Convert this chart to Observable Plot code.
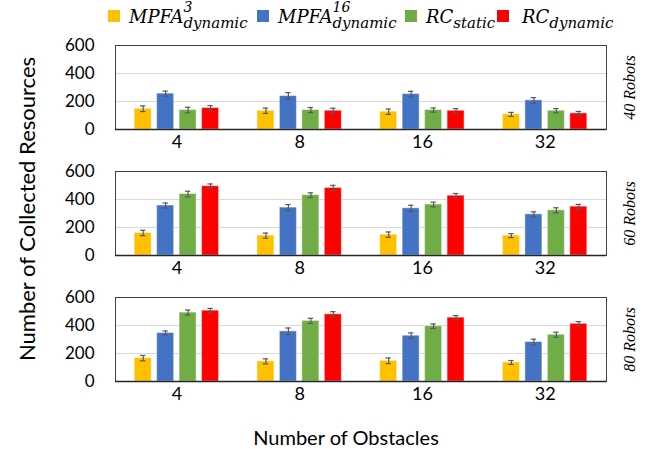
<!DOCTYPE html>
<html>
<head>
<meta charset="utf-8">
<script src="https://cdn.jsdelivr.net/npm/d3@7"></script>
<script src="https://cdn.jsdelivr.net/npm/@observablehq/plot@0.6"></script>
<style>
  html, body { margin: 0; padding: 0; background: #fff; }
  #wrap { position: relative; width: 650px; height: 449px; overflow: hidden; }
  #chart { position: absolute; left: 0; top: 0; }
  .legend-item { position: absolute; top: 0; height: 32px; white-space: nowrap; font-family: "DejaVu Serif", serif; font-style: italic; color: #000; }
  .sw { position: absolute; top: 10px; width: 12px; height: 12px; }
  .lab { position: absolute; top: 0; font-size: 18px; line-height: 1; }
  .base { position: relative; top: 8px; }
  .ss { position: relative; display: inline-block; }
  .sub { display: inline-block; font-size: 15px; line-height: 0.9; position: relative; top: 13px; }
  .sup { position: absolute; left: 0; top: 2px; font-size: 14px; line-height: 0.8; }
  .ytitle { position: absolute; left: 26px; top: 209px; transform: translate(-50%, -50%) rotate(-90deg); font-family: Lato, sans-serif; font-size: 22px; white-space: nowrap; color: #000; }
  .xtitle { position: absolute; left: 346px; top: 437px; transform: translate(-50%, -50%); font-family: Lato, sans-serif; font-size: 20px; white-space: nowrap; color: #000; }
</style>
</head>
<body>
<div id="wrap">
  <div id="chart"></div>
  <div id="legend"></div>
  <div class="ytitle">Number of Collected Resources</div>
  <div class="xtitle">Number of Obstacles</div>
</div>
<script>
// ---- Data (rows: 40, 60, 80 robots; columns: 4, 8, 16, 32 obstacles) ----
const obstacles = ["4", "8", "16", "32"];
const robots = ["40 Robots", "60 Robots", "80 Robots"];
const seriesNames = ["MPFA3dyn", "MPFA16dyn", "RCstatic", "RCdynamic"];
const seriesColors = ["#FFC000", "#4472C4", "#70AD47", "#FF0000"];
const yTicks = [0, 200, 400, 600];
const yDomain = [0, 600];

const mpfa3Mean    = [[148, 134, 127, 108], [161, 142, 149, 142], [167, 144, 148, 136]];
const mpfa16Mean   = [[256, 239, 253, 208], [357, 342, 337, 294], [346, 358, 327, 282]];
const rcStaticMean = [[139, 139, 139, 134], [439, 431, 364, 323], [492, 433, 395, 334]];
const rcDynMean    = [[153, 134, 134, 115], [495, 482, 427, 349], [506, 480, 456, 412]];

const mpfa3Err    = [[20, 19, 19, 14], [19, 18, 19, 14], [19, 18, 20, 14]];
const mpfa16Err   = [[18, 24, 20, 20], [18, 22, 22, 18], [15, 24, 20, 20]];
const rcStaticErr = [[20, 18, 15, 15], [20, 17, 17, 18], [18, 18, 16, 18]];
const rcDynErr    = [[18, 18, 15, 14], [16, 19, 16, 16], [16, 19, 15, 16]];

// ---- Build table ----
const means = [mpfa3Mean, mpfa16Mean, rcStaticMean, rcDynMean];
const errs = [mpfa3Err, mpfa16Err, rcStaticErr, rcDynErr];
const data = [];
robots.forEach((r, ri) => obstacles.forEach((o, oi) => seriesNames.forEach((s, si) => {
  data.push({robots: r, obstacle: o, gi: oi, si, series: s, mean: means[si][ri][oi], err: errs[si][ri][oi]});
})));

// layout within a group (in x-scale units; one group = 1 unit)
const step = 0.183, bw = 0.1385, cap = 0.022;
const cx = d => d.gi + (d.si - 1.5) * step;

const chart = Plot.plot({
  width: 650,
  height: 449,
  marginLeft: 115,
  marginRight: 44,
  marginTop: 44,
  marginBottom: 67,
  style: {fontFamily: "Lato, sans-serif", fontSize: "17px", color: "#000", background: "#fff"},
  x: {domain: [-0.5, obstacles.length - 0.5], axis: null},
  y: {domain: yDomain, ticks: yTicks, tickSize: 0, tickPadding: 21, label: null},
  fy: {domain: robots, paddingInner: 0.333, paddingOuter: 0, axis: null, label: null},
  color: {domain: seriesNames, range: seriesColors},
  marks: [
    Plot.ruleY([200, 400], {stroke: "#d9d9d9", strokeWidth: 1}),
    Plot.rectY(data, {
      fy: "robots",
      x1: d => cx(d) - bw / 2,
      x2: d => cx(d) + bw / 2,
      y1: 0,
      y2: "mean",
      fill: "series",
      stroke: "#fff",
      strokeOpacity: 0.45,
      strokeWidth: 1
    }),
    Plot.ruleX(data, {fy: "robots", x: cx, y1: d => d.mean - d.err, y2: d => d.mean + d.err, stroke: "#595959", strokeWidth: 1.2}),
    Plot.ruleY(data, {fy: "robots", y: d => d.mean - d.err, x1: d => cx(d) - cap, x2: d => cx(d) + cap, stroke: "#595959", strokeWidth: 1.2}),
    Plot.ruleY(data, {fy: "robots", y: d => d.mean + d.err, x1: d => cx(d) - cap, x2: d => cx(d) + cap, stroke: "#595959", strokeWidth: 1.2}),
    Plot.frame({stroke: "#404040", strokeWidth: 1}),
    Plot.ruleY([0], {stroke: "#262626", strokeWidth: 1.5}),
    Plot.text(obstacles, {x: (d, i) => i, text: d => d, frameAnchor: "bottom", dy: 18, fontSize: 18, fill: "#000"}),
    Plot.text(robots, {
      fy: d => d,
      y: () => (yDomain[0] + yDomain[1]) / 2,
      text: d => d,
      frameAnchor: "right",
      textAnchor: "middle",
      lineAnchor: "middle",
      dx: 23,
      rotate: -90,
      fontFamily: "Liberation Serif",
      fontStyle: "italic",
      fontSize: 16,
      fill: "#000"
    })
  ]
});
document.getElementById("chart").appendChild(chart);

// ---- Legend (HTML) ----
const legendItems = [
  {base: "MPFA", sup: "3", sub: "dynamic", left: 108},
  {base: "MPFA", sup: "16", sub: "dynamic", left: 257},
  {base: "RC", sup: "", sub: "static", left: 405},
  {base: "RC", sup: "", sub: "dynamic", left: 497}
];
const legend = document.getElementById("legend");
legendItems.forEach((it, i) => {
  const el = document.createElement("div");
  el.className = "legend-item";
  el.style.left = it.left + "px";
  el.innerHTML = `<span class="sw" style="left:0;background:${seriesColors[i]}"></span>` +
    `<span class="lab" style="left:${i === 3 ? 25 : 21}px"><span class="base">${it.base}</span>` +
    `<span class="ss">${it.sup ? `<span class="sup">${it.sup}</span>` : ""}<span class="sub">${it.sub}</span></span></span>`;
  legend.appendChild(el);
});
</script>
</body>
</html>
